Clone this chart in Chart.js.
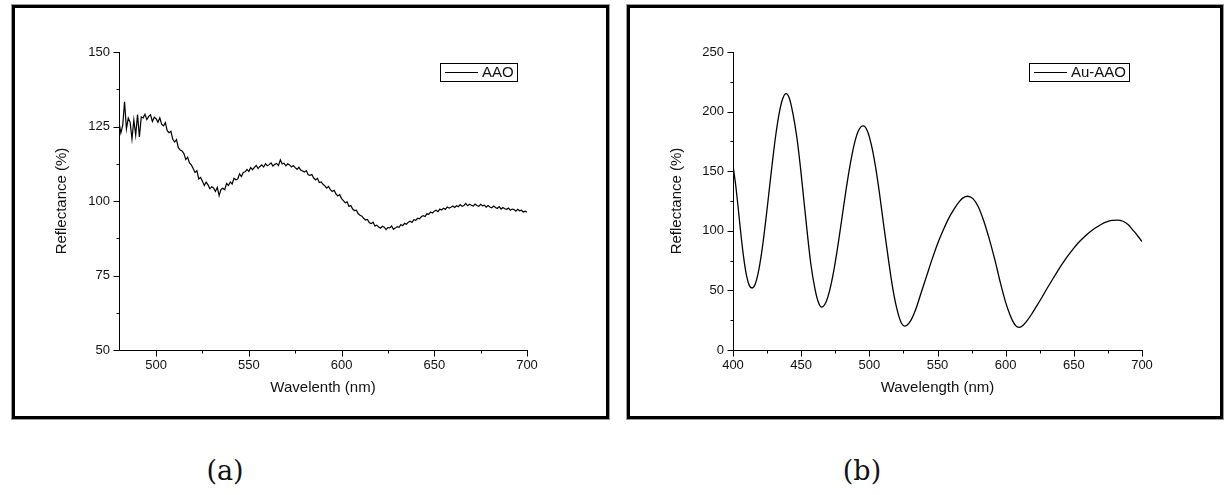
<!DOCTYPE html>
<html><head><meta charset="utf-8">
<script src="https://cdn.jsdelivr.net/npm/chart.js@4"></script>
<style>
html,body{margin:0;padding:0;background:#fff;}
body{width:1228px;height:495px;position:relative;overflow:hidden;font-family:"Liberation Sans",Arial,sans-serif;}
.panel{position:absolute;box-sizing:border-box;border:3px solid #000;box-shadow:0 0 0 1px #999;}
#pa{left:12px;top:5px;width:597px;height:414px;}
#pb{left:627px;top:5px;width:596px;height:414px;}
.panel canvas{position:absolute;left:0;top:0;}
.cap{position:absolute;top:455px;line-height:32px;font-family:"DejaVu Serif",serif;font-size:27px;color:#111;transform:translateX(-50%);white-space:nowrap;}
</style></head>
<body>
<div class="panel" id="pa"><canvas id="ca" width="591" height="408"></canvas></div>
<div class="panel" id="pb"><canvas id="cb" width="590" height="408"></canvas></div>
<div class="cap" style="left:225px">(a)</div>
<div class="cap" style="left:862px">(b)</div>
<script>
// ---- Data (a): AAO reflectance, 480..700 nm, 1 nm sampling ----
const aaoStartNm = 480;
const aaoReflectance = [
126.5,122.8,125.4,133.3,124.2,127.8,126.4,120.8,127.2,122.1,
129,121.5,128.2,127.9,129.1,127.3,128.4,128.9,126.7,128.1,
127.6,126.4,127.9,125.8,125.2,126.3,123.6,122.9,123.4,120.7,
119.8,120.6,117.9,117.1,116.8,115.9,113.9,114.7,112.8,112.1,
110.9,109.6,110.2,107.4,107.9,106.6,105.2,106.3,105.4,104.1,
104.8,104.4,103.2,104.6,101.8,103.9,104.3,103.8,105.9,105.2,
106.4,105.7,107.6,107.1,107.4,109.1,108.2,109.6,109.8,110.6,
109.9,111.2,110.5,111.3,111.9,110.9,111.6,112.1,111.4,112.5,
111.8,112.2,112.8,111.7,112.3,112.6,111.9,113.8,112.4,112.7,
111.8,112.5,112.1,111.4,111.9,111.2,110.6,111.3,110.4,110.1,
109.7,110.2,108.8,108.6,108.9,107.7,107.1,107.6,106.2,106.4,
105.6,105.1,104.3,104.9,103.8,103.2,103.6,102.4,101.7,102.1,
100.8,100.1,99.4,99.7,98.2,98.5,97.3,96.8,96.9,95.7,
95.2,94.9,94.1,93.6,93.8,92.7,92.4,92.9,91.6,91.9,
91.3,90.9,91.5,91.2,90.4,91.1,91.0,91.6,90.5,90.9,
91.4,91.2,92.1,91.7,92.5,92.2,92.9,93.2,92.8,93.7,
93.5,94.2,94.0,94.7,95.1,94.8,95.7,95.5,96.3,96.0,
96.6,96.9,96.4,97.3,97.0,97.6,97.2,98.0,97.6,97.9,
98.3,97.8,98.4,98.1,98.8,98.2,98.5,99.2,98.4,98.9,
98.6,98.3,99.0,98.5,98.2,98.9,98.4,98.6,97.9,98.5,
98.0,97.7,98.3,97.8,97.5,98.1,97.3,97.8,97.4,97.2,
97.6,96.9,97.3,97.1,96.6,97.2,96.7,96.9,96.3,96.6,
96.2
];
const aaoWavelength = aaoReflectance.map((_, i) => aaoStartNm + i);

// ---- Data (b): Au-AAO reflectance ----
const auWavelength = [
400,402,404,406,408,410,412,414,416.5,419,421.5,424,426.5,429,431.5,434,436.5,439,
441.5,444,447,449.5,452,454.5,457,460,462.5,465,
468,471,474,477,480,483,486,489,492,495.5,
498.5,501.5,504.5,507.5,510.5,514,517,520,523,526,
530,534,538,542,546,550,554,558,562,566,569,572,
576,580,584,588,592,596,600,603,606,608,610,
613,616,619,622,626,630,634,638,642,646,650,654,658,662,666,670,674,678,682,
686,690,693,696,698,700
];
const auReflectance = [
155,138,117,95,76,62,54,52,56,67.6,85.6,108.3,133.5,158.7,181.4,199.4,211,215,
210.6,198,177,153,125.5,98,73,52,40.5,36,
39.7,50.5,67,88,111.5,135,156,173,184,188,
184,172,154,131,105,76,53,35.5,24,20,
24,34,48,62,76,89,100,110,118,124.5,127.8,129,
127,120,108,93,76,57,40,30,22.5,19.8,19,
21,25,30,35.5,43,51,58.5,66,73,79.5,85.5,90.8,95.3,99.2,102.5,105.3,107.4,108.7,109,
108,105,101,97,94,91
];

// ---- Axis tick labels ----
const aXMajor = [500,550,600,650,700];
const aXMinor = [525,575,625,675];
const aYMajor = [50,75,100,125,150];
const aYMinor = [62.5,87.5,112.5,137.5];
const bXMajor = [400,450,500,550,600,650,700];
const bXMinor = [425,475,525,575,625,675];
const bYMajor = [0,50,100,150,200,250];
const bYMinor = [25,75,125,175,225];

const TEXT = '#111';
const FONT = '"Liberation Sans", Arial, sans-serif';

const axesPlugin = {
  id: 'axesTicks',
  afterDraw(chart, args, o) {
    const ctx = chart.ctx, ca = chart.chartArea;
    const xs = chart.scales.x, ys = chart.scales.y;
    ctx.save();
    ctx.strokeStyle = '#000';
    ctx.lineWidth = 1;
    ctx.beginPath();
    const L = Math.round(ca.left) + 0.5, B = Math.round(ca.bottom) + 0.5;
    ctx.moveTo(L, Math.round(ca.top));
    ctx.lineTo(L, B);
    ctx.lineTo(Math.round(ca.right) + 1, B);
    o.xMajor.forEach(v => { const p = Math.round(xs.getPixelForValue(v)) + 0.5; ctx.moveTo(p, B); ctx.lineTo(p, B + 6); });
    o.xMinor.forEach(v => { const p = Math.round(xs.getPixelForValue(v)) + 0.5; ctx.moveTo(p, B); ctx.lineTo(p, B + 3); });
    o.yMajor.forEach(v => { const p = Math.round(ys.getPixelForValue(v)) + 0.5; ctx.moveTo(L, p); ctx.lineTo(L - 6, p); });
    o.yMinor.forEach(v => { const p = Math.round(ys.getPixelForValue(v)) + 0.5; ctx.moveTo(L, p); ctx.lineTo(L - 3, p); });
    ctx.stroke();
    ctx.restore();
  }
};

const legendPlugin = {
  id: 'boxLegend',
  afterDraw(chart, args, o) {
    const ctx = chart.ctx, ca = chart.chartArea;
    const label = chart.data.datasets[0].label;
    ctx.save();
    ctx.font = '15px ' + FONT;
    const tw = ctx.measureText(label).width;
    const w = Math.round(5 + 33 + 4 + tw + 3), h = 18;
    const right = Math.round(ca.right - o.rightGap);
    const left = right - w;
    const top = Math.round(ca.top + o.topGap);
    ctx.strokeStyle = '#000';
    ctx.lineWidth = 1;
    ctx.strokeRect(left + 0.5, top + 0.5, w, h);
    ctx.beginPath();
    ctx.moveTo(left + 5, top + 9.5);
    ctx.lineTo(left + 38, top + 9.5);
    ctx.stroke();
    ctx.fillStyle = TEXT;
    ctx.textBaseline = 'middle';
    ctx.textAlign = 'left';
    ctx.fillText(label, left + 42, top + 10);
    ctx.restore();
  }
};

function makeChart(id, cfg) {
  const pts = cfg.xs.map((x, i) => ({x: x, y: cfg.ys[i]}));
  return new Chart(document.getElementById(id), {
    type: 'line',
    data: { datasets: [{
      label: cfg.label, data: pts, borderColor: '#000', borderWidth: cfg.lw,
      pointRadius: 0, fill: false,
      tension: cfg.smooth ? 0.4 : 0,
      cubicInterpolationMode: cfg.smooth ? 'monotone' : 'default'
    }]},
    options: {
      responsive: false, animation: false, events: [],
      layout: { padding: { left: 0, right: cfg.padRight, top: 44, bottom: 0 } },
      plugins: {
        legend: { display: false }, tooltip: { enabled: false },
        axesTicks: { xMajor: cfg.xMajor, xMinor: cfg.xMinor, yMajor: cfg.yMajor, yMinor: cfg.yMinor },
        boxLegend: { rightGap: cfg.legendGap, topGap: 11 }
      },
      scales: {
        x: {
          type: 'linear', min: cfg.xMin, max: cfg.xMax,
          grid: { display: false, drawTicks: false }, border: { display: false },
          afterBuildTicks: s => { s.ticks = cfg.xMajor.map(v => ({value: v})); },
          afterFit: s => { s.height = 66; },
          ticks: { color: TEXT, font: { family: FONT, size: 13 }, padding: 8, maxRotation: 0, autoSkip: false },
          title: { display: true, text: cfg.xTitle, color: TEXT, font: { family: FONT, size: 15 }, padding: { top: 0, bottom: 19 } }
        },
        y: {
          type: 'linear', min: cfg.yMin, max: cfg.yMax,
          grid: { display: false, drawTicks: false }, border: { display: false },
          afterBuildTicks: s => { s.ticks = cfg.yMajor.map(v => ({value: v})); },
          afterFit: s => { s.width = cfg.yWidth; },
          ticks: { color: TEXT, font: { family: FONT, size: 13 }, padding: 9, autoSkip: false },
          title: { display: true, text: 'Reflectance (%)', color: TEXT, font: { family: FONT, size: 15 }, padding: { top: 38, bottom: 0 } }
        }
      }
    },
    plugins: [axesPlugin, legendPlugin]
  });
}

makeChart('ca', {
  xs: aaoWavelength, ys: aaoReflectance, label: 'AAO', lw: 1.2, smooth: false,
  xMin: 480, xMax: 700, yMin: 50, yMax: 150,
  xMajor: aXMajor, xMinor: aXMinor, yMajor: aYMajor, yMinor: aYMinor,
  xTitle: 'Wavelenth (nm)', padRight: 79, yWidth: 104, legendGap: 10
});
makeChart('cb', {
  xs: auWavelength, ys: auReflectance, label: 'Au-AAO', lw: 1.3, smooth: true,
  xMin: 400, xMax: 700, yMin: 0, yMax: 250,
  xMajor: bXMajor, xMinor: bXMinor, yMajor: bYMajor, yMinor: bYMinor,
  xTitle: 'Wavelength (nm)', padRight: 78, yWidth: 103, legendGap: 13
});
</script>
</body></html>
